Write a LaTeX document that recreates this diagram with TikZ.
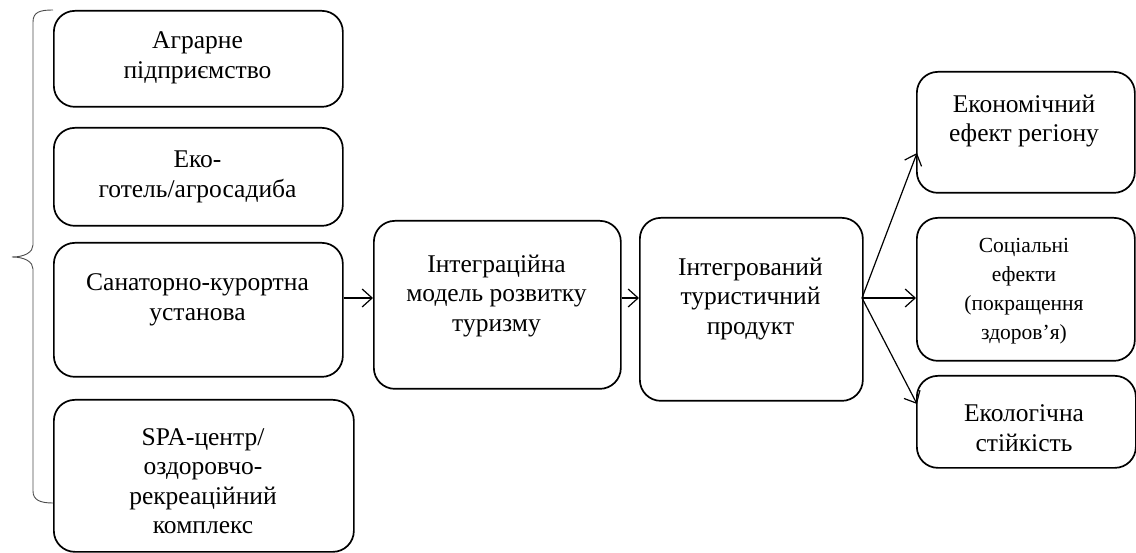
\documentclass[tikz,border=0pt]{standalone}
\usepackage{fontspec}
\setmainfont{Liberation Serif}
\usetikzlibrary{arrows.meta}
\tikzset{
  box/.style={draw, line width=1.7pt, rounded corners=21pt, anchor=north west, inner sep=0pt},
  txt/.style={align=center, font=\fontsize{25.5}{29.5}\selectfont, inner sep=0pt},
  stxt/.style={align=center, font=\fontsize{21.5}{29}\selectfont, inner sep=0pt},
  arr/.style={line width=1.2pt, -{Straight Barb[length=10pt,width=18pt,line width=1.2pt]}},
  bracestyle/.style={line width=0.9pt, draw=black!70}
}
\begin{document}
\begin{tikzpicture}[x=1pt,y=-1pt]
\useasboundingbox (0,0) rectangle (1136,553);
% left boxes
\node[box, minimum width=289pt, minimum height=96pt] (b1) at (53,10) {};
\node[box, minimum width=289pt, minimum height=98pt] (b2) at (53,127) {};
\node[box, minimum width=289pt, minimum height=134pt] (b3) at (53,242) {};
\node[box, minimum width=300pt, minimum height=152pt] (b4) at (53,399) {};
\node[txt] (t1) at (197.5,58) {Аграрне\\підприємство};
\node[txt] (t2) at (197.5,177) {Еко-\\готель/агросадиба};
\node[txt] (t3) at (197.5,300) {Санаторно-курортна\\установа};
\node[txt] (t4) at (203,481) {SPA-центр/\\оздоровчо-\\рекреаційний\\комплекс};
% middle boxes
\node[box, minimum width=247pt, minimum height=168pt] (m) at (373,220) {};
\node[txt] (tm) at (496.5,296) {Інтеграційна\\модель розвитку\\туризму};
\node[box, minimum width=223pt, minimum height=183pt] (p) at (639,217) {};
\node[txt] (tp) at (750.5,299) {Інтегрований\\туристичний\\продукт};
% right boxes
\node[box, minimum width=218pt, minimum height=121pt] (r1) at (916,71) {};
\node[txt] (tr1) at (1024,121) {Економічний\\ефект регіону};
\node[box, minimum width=218pt, minimum height=143pt] (r2) at (916,217) {};
\node[stxt] (tr2) at (1024,291) {Соціальні\\ефекти\\(покращення\\здоров’я)};
\node[box, minimum width=219pt, minimum height=92pt] (r3) at (916,375) {};
\node[txt] (tr3) at (1024,428) {Екологічна\\стійкість};
% connectors
\coordinate (s) at (862,298);
\draw[arr] (b3.east |- 0,298) -- (m.west |- 0,298);
\draw[arr] (m.east |- 0,298) -- (p.west |- 0,298);
\draw[arr] (s) -- (917,153);
\draw[arr] (s) -- (r2.west |- s);
\draw[arr] (s) -- (917,404);
% brace
\draw[bracestyle] (53,10) .. controls (40,10) and (33,12) .. (33,22) -- (33,245)
  .. controls (33,252) and (25,257) .. (12,257)
  .. controls (25,257) and (33,262) .. (33,269) -- (33,491)
  .. controls (33,500) and (40,503) .. (53,503);
\end{tikzpicture}
\end{document}
